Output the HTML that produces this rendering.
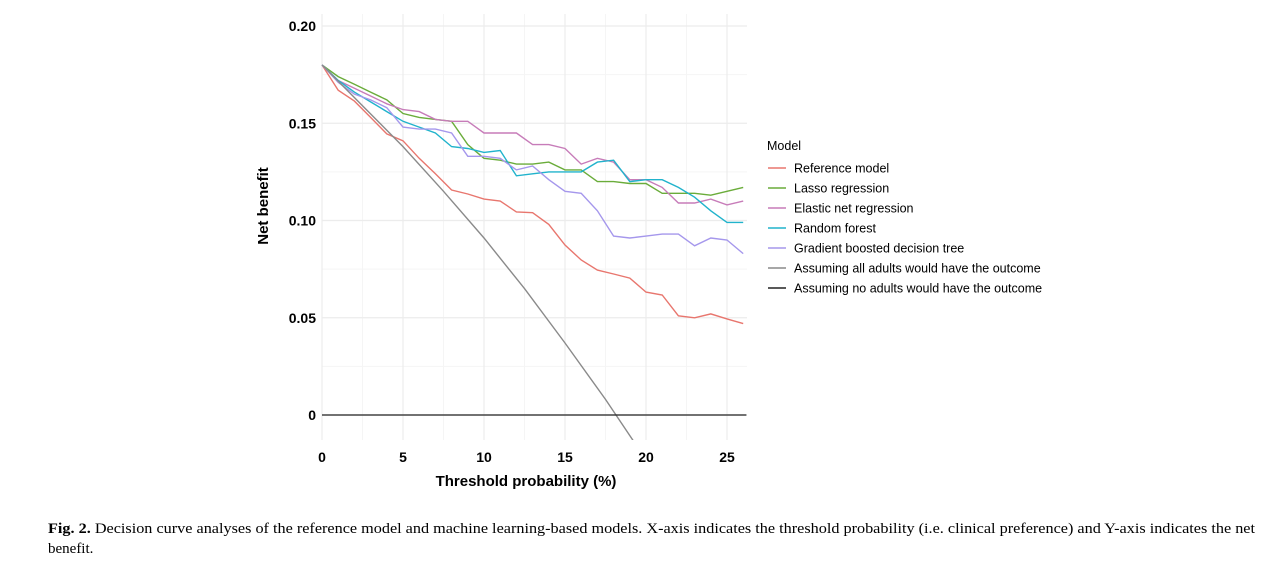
<!DOCTYPE html>
<html><head><meta charset="utf-8"><style>
body{margin:0;background:#fff;width:1280px;height:573px;overflow:hidden}
svg{display:block}
</style></head><body>
<svg id="chart" width="1280" height="573" xmlns="http://www.w3.org/2000/svg" font-family="Liberation Sans, sans-serif">
<g id="grid"></g>
<g id="series"></g>
<g id="axes"></g>
<g id="legend"></g>
<text x="282" y="220" transform="rotate(-90 268 220)" font-size="15" font-weight="bold" text-anchor="middle">Net benefit</text>
<text x="526" y="486" font-size="15" font-weight="bold" text-anchor="middle">Threshold probability (%)</text>
<text x="48" y="533" font-size="15" font-family="Liberation Sans Narrow, Liberation Serif, serif" textLength="1207" lengthAdjust="spacingAndGlyphs"><tspan font-weight="bold">Fig. 2.</tspan> Decision curve analyses of the reference model and machine learning-based models. X-axis indicates the threshold probability (i.e. clinical preference) and Y-axis indicates the net</text>
<text x="48" y="553" font-size="15" font-family="Liberation Sans Narrow, Liberation Serif, serif">benefit.</text>
</svg>
<script>
const xs = [0,1,2,3,4,5,6,7,8,9,10,11,12,13,14,15,16,17,18,19,20,21,22,23,24,25,26];
const refModel = [0.18,0.167,0.1614,0.153,0.1445,0.141,0.132,0.124,0.1157,0.1136,0.111,0.110,0.1044,0.104,0.098,0.0874,0.0797,0.0745,0.0725,0.0704,0.0632,0.0617,0.051,0.050,0.052,0.0494,0.047];
const lasso = [0.18,0.174,0.170,0.166,0.162,0.155,0.153,0.152,0.151,0.139,0.132,0.131,0.129,0.129,0.130,0.126,0.126,0.120,0.120,0.119,0.119,0.114,0.114,0.114,0.113,0.115,0.117];
const elastic = [0.18,0.172,0.168,0.164,0.160,0.157,0.156,0.152,0.151,0.151,0.145,0.145,0.145,0.139,0.139,0.137,0.129,0.132,0.130,0.121,0.121,0.117,0.109,0.109,0.111,0.108,0.110];
const forest = [0.18,0.172,0.166,0.161,0.156,0.151,0.148,0.145,0.138,0.137,0.135,0.136,0.123,0.124,0.125,0.125,0.125,0.130,0.131,0.120,0.121,0.121,0.117,0.112,0.105,0.099,0.099];
const gbdt = [0.18,0.171,0.165,0.162,0.158,0.148,0.147,0.147,0.145,0.133,0.133,0.132,0.126,0.128,0.121,0.115,0.114,0.105,0.092,0.091,0.092,0.093,0.093,0.087,0.091,0.090,0.083];
const allX = [0,2.5,5,7.5,10,12.5,15,17.5,20];
const allY = [0.18,0.159,0.138,0.115,0.091,0.065,0.037,0.008,-0.023];
const noneX = [0,26.2];
const noneY = [0,0];
const xTicks = [0,5,10,15,20,25];
const yTicks = [0,0.05,0.10,0.15,0.20];
const yTickLabels = ['0','0.05','0.10','0.15','0.20'];
const legendLabels = ['Reference model','Lasso regression','Elastic net regression','Random forest','Gradient boosted decision tree','Assuming all adults would have the outcome','Assuming no adults would have the outcome'];
const colors = ['#e8766e','#6aac3a','#c77cb9','#21b3cc','#a597ec','#8a8a8a','#222'];

const NS='http://www.w3.org/2000/svg';
const X0=322, XS=16.2, Y0=415, YS=1945, XR=747, YT=14, YB=440;
const sx=v=>X0+v*XS, sy=v=>Y0-v*YS;
function mk(tag,attrs,parent){const e=document.createElementNS(NS,tag);for(const k in attrs)e.setAttribute(k,attrs[k]);parent.appendChild(e);return e;}
const grid=document.getElementById('grid'), ser=document.getElementById('series'), axes=document.getElementById('axes'), leg=document.getElementById('legend');
for(let v=2.5;v<26.2;v+=5){const l=mk('line',{x1:sx(v),x2:sx(v),y1:YT,y2:YB,stroke:'#f5f5f5','stroke-width':1},grid);

}
for(let v=0.025;v<0.21;v+=0.05){const l=mk('line',{x1:X0,x2:XR,y1:sy(v),y2:sy(v),stroke:'#f5f5f5','stroke-width':1},grid);

}
xTicks.forEach(t=>{const l=mk('line',{x1:sx(t),x2:sx(t),y1:YT,y2:YB,stroke:'#ececec','stroke-width':1.2},grid);


const tx=mk('text',{x:sx(t),y:462,'font-size':14,'font-weight':'bold','text-anchor':'middle'},axes);tx.textContent=t;

});
yTicks.forEach((t,i)=>{const l=mk('line',{x1:X0,x2:XR,y1:sy(t),y2:sy(t),stroke:'#ececec','stroke-width':1.2},grid);


const tx=mk('text',{x:316,y:sy(t)+5,'font-size':14,'font-weight':'bold','text-anchor':'end'},axes);tx.textContent=yTickLabels[i];

});
const clip=mk('clipPath',{id:'pc'},mk('defs',{},document.getElementById('chart')));
mk('rect',{x:X0-2,y:YT,width:XR-X0+4,height:YB-YT},clip);
const seriesList=[[xs,refModel],[xs,lasso],[xs,elastic],[xs,forest],[xs,gbdt],[allX,allY],[noneX,noneY]];
const names=['reference-model-line','lasso-line','elastic-net-line','random-forest-line','gbdt-line','treat-all-line','treat-none-line'];
seriesList.forEach((s,i)=>{const d=s[0].map((x,j)=>(j?'L':'M')+sx(x).toFixed(1)+','+sy(s[1][j]).toFixed(1)).join('');
const p=mk('path',{d:d,fill:'none',stroke:colors[i],'stroke-width':i==6?1.3:1.4,'clip-path':'url(#pc)'},ser);

});
const tt=mk('text',{x:767,y:150,'font-size':12.5},leg);tt.textContent='Model';


legendLabels.forEach((lab,i)=>{const y=168+i*20;
const g=mk('g',{},leg);


mk('line',{x1:768,x2:786,y1:y,y2:y,stroke:colors[i],'stroke-width':1.4},g);
const t=mk('text',{x:794,y:y+4.5,'font-size':12.5},g);t.textContent=lab;});
</script>
</body></html>
